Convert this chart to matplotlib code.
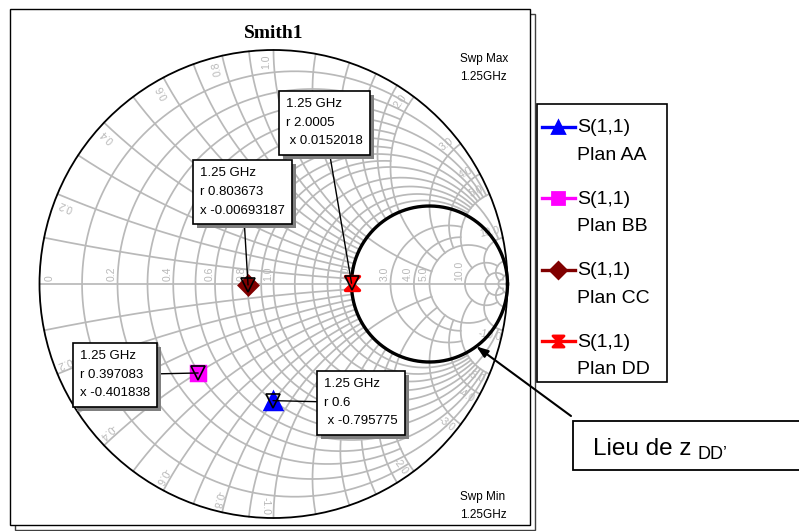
import numpy as np
import matplotlib
matplotlib.use("Agg")
import matplotlib.pyplot as plt
import matplotlib.patheffects as pe
from matplotlib.patches import Rectangle, Circle
from matplotlib.lines import Line2D
from matplotlib.path import Path
from matplotlib.legend_handler import HandlerLine2D

plt.rcParams['font.family'] = ['Liberation Sans', 'DejaVu Sans']

# ---------------- data ----------------
chart_title = "Smith1"
trace_label = "S(1,1)"
plan_names = ["Plan AA", "Plan BB", "Plan CC", "Plan DD"]
plan_colors = ["#0000ff", "#ff00ff", "#800000", "#ff0000"]
freq_text = "1.25 GHz"
marker_r = [0.6, 0.397083, 0.803673, 2.0005]
marker_x = [-0.795775, -0.401838, -0.00693187, 0.0152018]
x_prefix = [" x", "x", "x", " x"]
locus_r = 2.0
locus_pointer_x = -6.0
locus_text = "Lieu de z"
locus_subscript = "DD\u2019"
sweep_max_text = ["Swp Max", "1.25GHz"]
sweep_min_text = ["Swp Min", "1.25GHz"]

grid_r_values = [0.1, 0.2, 0.3, 0.4, 0.5, 0.6, 0.7, 0.8, 0.9, 1.0,
                 1.2, 1.4, 1.6, 1.8, 2.0, 3.0, 4.0, 5.0, 10.0, 20.0, 50.0]
grid_r_xlimit = [2, 5, 2, 5, 2, 5, 2, 5, 2, 10,
                 5, 5, 5, 5, 10, 5, 5, 10, 20, 50, 50]
grid_x_values = [0.1, 0.2, 0.3, 0.4, 0.5, 0.6, 0.7, 0.8, 0.9, 1.0,
                 1.2, 1.4, 1.6, 1.8, 2.0, 3.0, 4.0, 5.0, 10.0, 20.0, 50.0]
grid_x_rlimit = [2, 2, 2, 2, 2, 2, 2, 2, 2, 5,
                 2, 2, 2, 2, 5, 5, 5, 10, 20, 50, 50]
r_axis_labels = [0.0, 0.2, 0.4, 0.6, 0.8, 1.0, 2.0, 3.0, 4.0, 5.0, 10.0]
x_edge_labels = [0.2, 0.4, 0.6, 0.8, 1.0, 2.0, 3.0, 4.0, 5.0, 10.0]

# ---------------- layout (pixels) ----------------
W, H = 799, 531
CX, CY, R = 273.5, 284.0, 234.0
HALF = 246.0
GRID_C = "#b9b9b9"
GRID_LW = 1.25
LABEL_C = "#b8b8b8"
label_box_topleft = [(317, 371), (73, 343), (193, 160), (279, 91)]

def fx(px):
    return px / W

def fy(py):
    return 1 - py / H

def gamma(z):
    return (z - 1) / (z + 1)

fig = plt.figure(figsize=(W / 100, H / 100), dpi=100)

# outer frame with offset outline
fig.add_artist(Rectangle((fx(15), fy(530)), (530 - 10) / W, (530 - 14) / H,
                         transform=fig.transFigure, fill=False, ec="#404040",
                         lw=1.0, zorder=-2))
fig.add_artist(Rectangle((fx(10), fy(525)), (530 - 10) / W, (525 - 9) / H,
                         transform=fig.transFigure, fc="white", ec="black",
                         lw=1.0, zorder=-1))

lim = HALF / R
ax = fig.add_axes([fx(CX - HALF), fy(CY + HALF), 2 * HALF / W, 2 * HALF / H])
ax.set_xlim(-lim, lim)
ax.set_ylim(-lim, lim)
ax.axis("off")

# ---- grid ----
for r, xl in zip(grid_r_values, grid_r_xlimit):
    t = np.linspace(-np.arctan(xl), np.arctan(xl), 400)
    g = gamma(r + 1j * np.tan(t))
    ax.plot(g.real, g.imag, color=GRID_C, lw=GRID_LW, zorder=1)
for xv, rl in zip(grid_x_values, grid_x_rlimit):
    t = np.linspace(0, np.arctan(rl), 400)
    for s in (1, -1):
        g = gamma(np.tan(t) + 1j * s * xv)
        ax.plot(g.real, g.imag, color=GRID_C, lw=GRID_LW, zorder=1)
t = np.linspace(0, np.pi / 2 - 1e-7, 400)
g = gamma(np.tan(t) + 0j)
ax.plot(g.real, g.imag, color=GRID_C, lw=GRID_LW, zorder=1)

# unit circle
ax.add_patch(Circle((0, 0), 1.0, fill=False, ec="black", lw=1.3, zorder=3))

# labels on the real axis
for rv in r_axis_labels:
    g = gamma(complex(rv, 0))
    if rv == 0:
        ax.annotate("0", xy=(g.real, 0), xytext=(4, 2), textcoords="offset points",
                    rotation=90, ha="left", va="bottom", fontsize=7.5, color=LABEL_C, zorder=2)
    else:
        ax.annotate(f"{rv:.1f}", xy=(g.real, 0), xytext=(-0.5, 2), textcoords="offset points",
                    rotation=90, ha="right", va="bottom", fontsize=7.5, color=LABEL_C, zorder=2)

# labels at the edge
for xv in x_edge_labels:
    for s in (1, -1):
        g = gamma(complex(0, s * xv))
        th = np.degrees(np.angle(g))
        ang = np.radians(th + 2 * s)
        txt = f"{xv:.1f}" if s > 0 else f"-{xv:.1f}"
        ax.text(0.95 * np.cos(ang), 0.95 * np.sin(ang), txt, rotation=th,
                rotation_mode="anchor", ha="center", va="center",
                fontsize=7.5, color=LABEL_C, zorder=2)

# locus circle r = 2
t = np.linspace(-np.pi / 2 + 1e-6, np.pi / 2 - 1e-6, 800)
g = gamma(locus_r + 1j * np.tan(t))
ax.plot(g.real, g.imag, color="black", lw=2.4, zorder=4)

# markers
bowtie = Path([(-1, 1), (1, 1), (-1, -1), (1, -1), (-1, 1)],
              [Path.MOVETO, Path.LINETO, Path.LINETO, Path.LINETO, Path.CLOSEPOLY])
marker_shapes = ["^", "s", "D", bowtie]
marker_sizes = [11, 10, 9, 10]
for r, xv, c, m, ms in zip(marker_r, marker_x, plan_colors, marker_shapes, marker_sizes):
    g = gamma(complex(r, xv))
    ax.plot([g.real], [g.imag], ls="none", marker=m, ms=ms, color=c, mfc=c, mec=c,
            mew=2.5, zorder=5)
    ax.plot([g.real], [g.imag], ls="none", marker="v", ms=10, mfc="none",
            mec="black", mew=1.2, zorder=6)

# marker readouts
FS_LAB = 9.5
pad_px = 7.0
for r, xv, xp, (bx, by) in zip(marker_r, marker_x, x_prefix, label_box_topleft):
    g = gamma(complex(r, xv))
    txt = f"{freq_text}\nr {r:g}\n{xp} {xv:g}"
    ann = ax.annotate(txt, xy=(g.real, g.imag), xycoords="data",
                      xytext=(bx + pad_px, H - (by + pad_px)), textcoords="figure pixels",
                      ha="left", va="top", fontsize=FS_LAB, linespacing=1.75,
                      bbox=dict(boxstyle=f"square,pad={pad_px / (FS_LAB * 100 / 72):.3f}",
                                fc="white", ec="black", lw=1.2),
                      arrowprops=dict(arrowstyle="-", color="black", lw=1.0,
                                      shrinkA=0, shrinkB=0),
                      zorder=7)
    ann.get_bbox_patch().set_path_effects(
        [pe.SimplePatchShadow(offset=(3, -3), shadow_rgbFace="#808080", alpha=1.0), pe.Normal()])

# pointer to the locus
gp = gamma(complex(locus_r, locus_pointer_x))
ax.annotate("", xy=(gp.real, gp.imag), xycoords="data",
            xytext=(571, H - 416), textcoords="figure pixels",
            arrowprops=dict(arrowstyle="-|>,head_length=0.7,head_width=0.25",
                            color="black", lw=1.5, shrinkA=0, shrinkB=0),
            zorder=8)

# title & sweep texts
fig.text(fx(CX), fy(34), chart_title, ha="center", va="center", fontsize=14,
         fontweight="bold", family="Liberation Serif")
for s, yy in zip(sweep_max_text, [59, 77]):
    fig.text(fx(460), fy(yy), s, ha="left", va="center", fontsize=8.5)
for s, yy in zip(sweep_min_text, [497, 515]):
    fig.text(fx(460), fy(yy), s, ha="left", va="center", fontsize=8.5)

# legend
FS_LEG = 14
LEG_LS = 1.8

class TopLineHandler(HandlerLine2D):
    def create_artists(self, legend, orig_handle, xdescent, ydescent, width, height,
                       fontsize, trans):
        arts = super().create_artists(legend, orig_handle, xdescent, ydescent, width,
                                      height, fontsize, trans)
        shift = 0.5 * 0.716 * fontsize * LEG_LS + 0.1 * fontsize
        for a in arts:
            a.set_ydata(np.asarray(a.get_ydata(), float) + shift)
        return arts

leg_shapes = ["^", "s", "D", bowtie]
handles = [Line2D([], [], color=c, lw=2.4, marker=m, ms=8, mfc=c, mec=c, mew=2)
           for c, m in zip(plan_colors, leg_shapes)]
labels = [f"{trace_label}\n{n}" for n in plan_names]
fig.add_artist(Rectangle((fx(537), fy(382)), (667 - 537) / W, (382 - 104) / H,
                         transform=fig.transFigure, fc="white", ec="black", lw=1.2, zorder=1))
leg = fig.legend(handles, labels, loc="upper left", bbox_to_anchor=(fx(541.5), fy(119.5)),
                 frameon=False, fontsize=FS_LEG, borderpad=0, borderaxespad=0,
                 handlelength=1.7, handletextpad=0.15, labelspacing=1.39,
                 handler_map={Line2D: TopLineHandler()})
for t_ in leg.get_texts():
    t_.set_linespacing(LEG_LS)

# locus caption box
fig.add_artist(Rectangle((fx(573), fy(470)), 300 / W, (470 - 421) / H,
                         transform=fig.transFigure, fc="white", ec="black", lw=1.3, zorder=2))
tl = fig.text(fx(593), fy(455), locus_text, ha="left", va="baseline", fontsize=17.5, zorder=3)
fig.add_artist(plt.Annotation(locus_subscript, xy=(1, 0), xycoords=tl,
                              xytext=(4, 1), textcoords="offset points",
                              ha="left", va="baseline", fontsize=13, zorder=3))

fig.savefig("out.png", dpi=100)
